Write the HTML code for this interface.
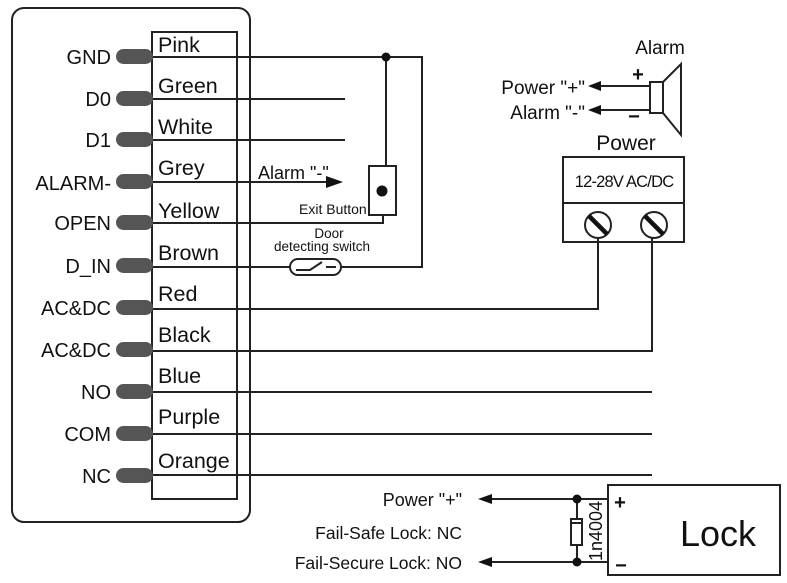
<!DOCTYPE html>
<html><head><meta charset="utf-8"><style>
html,body{margin:0;padding:0;background:#fff}
svg{display:block}
text{font-family:"Liberation Sans",Arial,sans-serif;fill:#111}
</style></head><body>
<svg width="787" height="583" viewBox="0 0 787 583" xmlns="http://www.w3.org/2000/svg">
<g fill="none" stroke="#222" stroke-width="2">
<rect x="12" y="8" width="238" height="514" rx="12"/>
<rect x="152" y="32" width="85" height="467"/>
</g>
<g stroke="#222" stroke-width="2">
<line x1="152" y1="57" x2="237" y2="57"/>
<line x1="152" y1="99" x2="237" y2="99"/>
<line x1="152" y1="140" x2="237" y2="140"/>
<line x1="152" y1="182" x2="237" y2="182"/>
<line x1="152" y1="223" x2="237" y2="223"/>
<line x1="152" y1="267" x2="237" y2="267"/>
<line x1="152" y1="309" x2="237" y2="309"/>
<line x1="152" y1="351" x2="237" y2="351"/>
<line x1="152" y1="392" x2="237" y2="392"/>
<line x1="152" y1="434" x2="237" y2="434"/>
<line x1="152" y1="475" x2="237" y2="475"/>
</g>
<g fill="#555">
<rect x="116" y="49" width="37" height="15" rx="7.5"/>
<rect x="116" y="91" width="37" height="15" rx="7.5"/>
<rect x="116" y="132" width="37" height="15" rx="7.5"/>
<rect x="116" y="174" width="37" height="15" rx="7.5"/>
<rect x="116" y="215" width="37" height="15" rx="7.5"/>
<rect x="116" y="258" width="37" height="15" rx="7.5"/>
<rect x="116" y="300" width="37" height="15" rx="7.5"/>
<rect x="116" y="342" width="37" height="15" rx="7.5"/>
<rect x="116" y="384" width="37" height="15" rx="7.5"/>
<rect x="116" y="426" width="37" height="15" rx="7.5"/>
<rect x="116" y="468" width="37" height="15" rx="7.5"/>
</g>
<g font-size="20" text-anchor="end">
<text x="111" y="64">GND</text>
<text x="111" y="106">D0</text>
<text x="111" y="147">D1</text>
<text x="111" y="190">ALARM-</text>
<text x="111" y="230">OPEN</text>
<text x="111" y="273">D_IN</text>
<text x="111" y="315">AC&amp;DC</text>
<text x="111" y="357">AC&amp;DC</text>
<text x="111" y="399">NO</text>
<text x="111" y="441">COM</text>
<text x="111" y="483">NC</text>
</g>
<g font-size="21.5">
<text x="158" y="52">Pink</text>
<text x="158" y="93">Green</text>
<text x="158" y="134">White</text>
<text x="158" y="175">Grey</text>
<text x="158" y="218">Yellow</text>
<text x="158" y="260">Brown</text>
<text x="158" y="301">Red</text>
<text x="158" y="342">Black</text>
<text x="158" y="383">Blue</text>
<text x="158" y="424">Purple</text>
<text x="158" y="468">Orange</text>
</g>
<g stroke="#222" stroke-width="2" fill="none">
<polyline points="237,57 422,57 422,267 341,267"/>
<line x1="290" y1="267" x2="237" y2="267"/>
<line x1="237" y1="99" x2="345" y2="99"/>
<line x1="237" y1="140" x2="345" y2="140"/>
<line x1="237" y1="182" x2="330" y2="182"/>
<line x1="386" y1="57" x2="386" y2="166"/>
<polyline points="237,223 383,223 383,215"/>
<rect x="369" y="166" width="27" height="49"/>
<rect x="290" y="259" width="51" height="16" rx="8"/>
<polyline points="296,270 310,270 322,262"/>
<line x1="326" y1="267" x2="336" y2="267"/>
<polyline points="237,309 598,309 598,238"/>
<polyline points="237,351 652,351 652,238"/>
<line x1="237" y1="392" x2="652" y2="392"/>
<line x1="237" y1="434" x2="652" y2="434"/>
<line x1="237" y1="475" x2="652" y2="475"/>
<rect x="563" y="157" width="121" height="85"/>
<line x1="563" y1="203" x2="684" y2="203"/>
<circle cx="598" cy="225" r="13"/>
<circle cx="654" cy="225" r="13"/>
<rect x="650" y="82" width="13" height="31"/>
<polygon points="663,82 681,64 681,135 663,113"/>
<line x1="650" y1="86" x2="595" y2="86"/>
<line x1="650" y1="110" x2="595" y2="110"/>
<rect x="608" y="485" width="172" height="90"/>
<line x1="608" y1="499" x2="485" y2="499"/>
<line x1="608" y1="562" x2="485" y2="562"/>
<line x1="577" y1="499" x2="577" y2="562"/>
<rect x="571" y="519" width="11" height="26" fill="#fff"/>
</g>
<g stroke="#111" stroke-width="4.5">
<line x1="589" y1="216" x2="607" y2="234"/>
<line x1="645" y1="216" x2="663" y2="234"/>
</g>
<line x1="571" y1="523" x2="582" y2="523" stroke="#222" stroke-width="2"/>
<g fill="#111">
<circle cx="386" cy="57" r="4.5"/>
<circle cx="382" cy="191" r="5.5"/>
<polygon points="343,182 326,176 326,188"/>
<polygon points="588,86 601,81 601,91"/>
<polygon points="588,110 601,105 601,115"/>
<polygon points="478,499 492,494 492,504"/>
<polygon points="478,562 492,557 492,567"/>
<circle cx="577" cy="499" r="4.5"/>
<circle cx="577" cy="562" r="4.5"/>
</g>
<text x="258" y="179" font-size="18">Alarm "-"</text>
<text x="299" y="214" font-size="14">Exit Button</text>
<text x="329" y="238" font-size="13.5" text-anchor="middle">Door</text>
<text x="322" y="251" font-size="13.5" text-anchor="middle">detecting switch</text>
<text x="660" y="54" font-size="19" text-anchor="middle">Alarm</text>
<text x="638" y="81" font-size="20" font-weight="bold" text-anchor="middle">+</text>
<text x="634" y="123" font-size="20" font-weight="bold" text-anchor="middle">−</text>
<text x="585" y="94" font-size="19" text-anchor="end">Power "+"</text>
<text x="585" y="119" font-size="19" text-anchor="end">Alarm "-"</text>
<text x="626" y="150" font-size="21" text-anchor="middle">Power</text>
<text x="624" y="187" font-size="16.5" text-anchor="middle" letter-spacing="-0.8">12-28V AC/DC</text>
<text x="462" y="506" font-size="18" text-anchor="end">Power "+"</text>
<text x="462" y="539" font-size="17.5" text-anchor="end">Fail-Safe Lock: NC</text>
<text x="462" y="569" font-size="17.5" text-anchor="end">Fail-Secure Lock: NO</text>
<text x="620" y="509" font-size="20" font-weight="bold" text-anchor="middle">+</text>
<text x="621" y="572" font-size="20" font-weight="bold" text-anchor="middle">−</text>
<text x="718" y="546" font-size="36" text-anchor="middle">Lock</text>
<text transform="translate(602,531) rotate(-90)" font-size="18" text-anchor="middle">1n4004</text>
</svg>
</body></html>
